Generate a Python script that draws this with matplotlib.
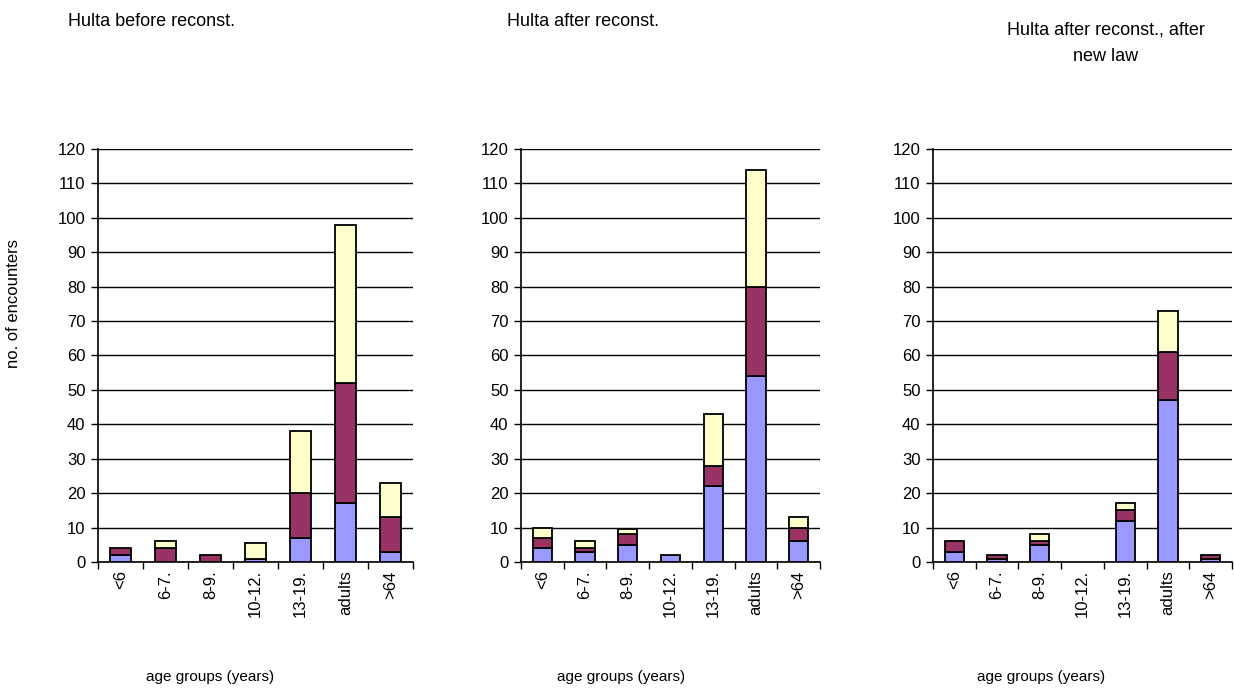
import matplotlib
matplotlib.use("Agg")
import matplotlib.pyplot as plt
import numpy as np

plt.rcParams['font.family'] = ['Liberation Sans', 'DejaVu Sans']

categories = ["<6", "6-7.", "8-9.", "10-12.", "13-19.", "adults", ">64"]

titles = ["Hulta before reconst.", "Hulta after reconst.", "Hulta after reconst., after\nnew law"]

# stacked segments per panel: bottom (blue), middle (purple), top (yellow)
before_blue   = [2, 0, 0, 1, 7, 17, 3]
before_purple = [2, 4, 2, 0, 13, 35, 10]
before_yellow = [0, 2, 0, 4.5, 18, 46, 10]

after_blue   = [4, 3, 5, 2, 22, 54, 6]
after_purple = [3, 1, 3, 0, 6, 26, 4]
after_yellow = [3, 2, 1.5, 0, 15, 34, 3]

law_blue   = [3, 1, 5, 0, 12, 47, 1]
law_purple = [3, 1, 1, 0, 3, 14, 1]
law_yellow = [0, 0, 2, 0, 2, 12, 0]

panels = [
    (before_blue, before_purple, before_yellow),
    (after_blue, after_purple, after_yellow),
    (law_blue, law_purple, law_yellow),
]

colors = ["#9999FF", "#993366", "#FFFFCC"]

W, H = 1234, 698
fig = plt.figure(figsize=(W / 100, H / 100), dpi=100)

# axes rectangles in pixels: left, right
boxes = [(98, 413), (521, 820), (933, 1232)]
top_px, bottom_px = 149, 562

title_pos = [(152, 21), (583, 21), (1106, 43)]
xlabel_pos = [210, 621, 1041]

for i, ((l, r), series) in enumerate(zip(boxes, panels)):
    ax = fig.add_axes([l / W, 1 - bottom_px / H, (r - l) / W, (bottom_px - top_px) / H])
    x = np.arange(len(categories))
    base = np.zeros(len(categories))
    for vals, c in zip(series, colors):
        vals = np.asarray(vals, dtype=float)
        mask = vals > 0
        ax.bar(x[mask], vals[mask], bottom=base[mask], width=0.45, color=c,
               edgecolor="black", linewidth=1.3, zorder=3)
        base = base + vals
    ax.set_xlim(-0.5, len(categories) - 0.5)
    ax.set_ylim(0, 120)
    ax.set_yticks(np.arange(0, 121, 10))
    ax.yaxis.grid(True, color="black", linewidth=1.0, zorder=0)
    ax.set_axisbelow(True)
    for s in ["top", "right"]:
        ax.spines[s].set_visible(False)
    ax.spines["left"].set_linewidth(1.2)
    ax.spines["bottom"].set_linewidth(1.2)
    ax.set_xticks(x)
    ax.set_xticklabels(categories, rotation=90, fontsize=12)
    ax.tick_params(axis="x", length=0, pad=6)
    ax.set_xticks(np.arange(-0.5, len(categories), 1.0), minor=True)
    ax.tick_params(axis="x", which="minor", length=5, width=1.0, direction="out")
    ax.tick_params(axis="y", length=5, width=1.0, labelsize=12, pad=4)
    fig.text(title_pos[i][0] / W, 1 - title_pos[i][1] / H, titles[i],
             ha="center", va="center", fontsize=13, linespacing=1.75)
    fig.text(xlabel_pos[i] / W, 1 - 677 / H, "age groups (years)",
             ha="center", va="center", fontsize=11)

fig.text(14 / W, 1 - 303 / H, "no. of encounters", rotation=90,
         ha="center", va="center", fontsize=12)

fig.savefig("out.png", dpi=100)
